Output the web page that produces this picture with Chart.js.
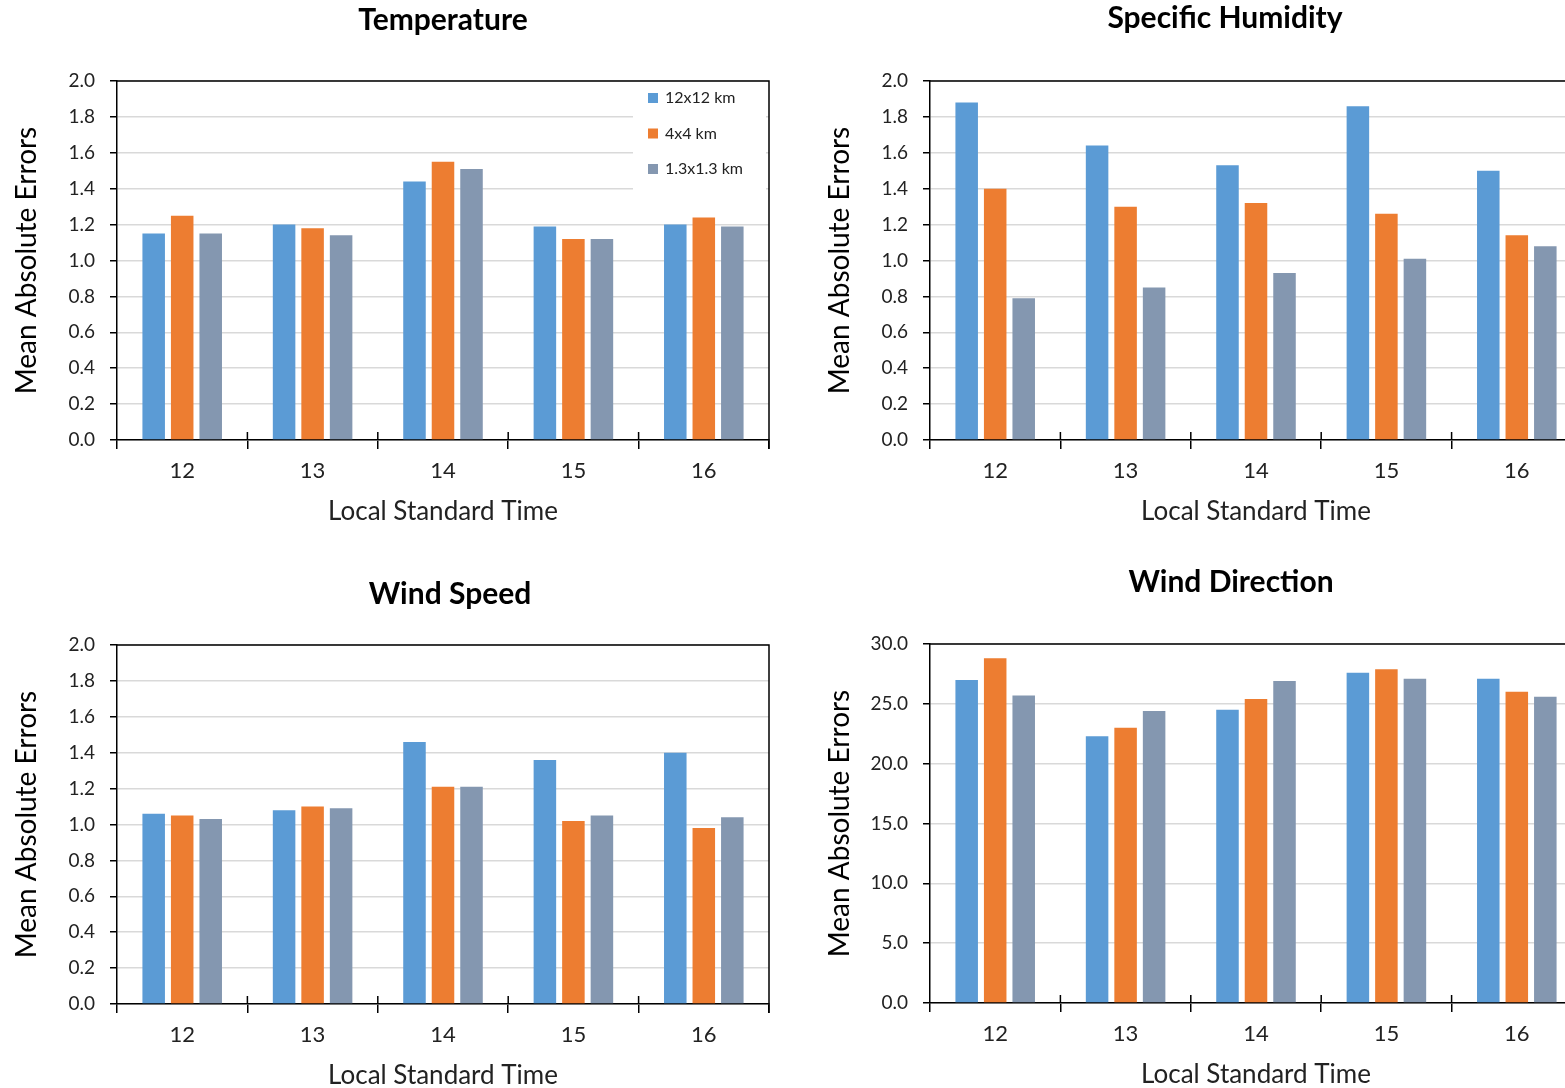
<!DOCTYPE html>
<html>
<head>
<meta charset="utf-8">
<title>Mean Absolute Errors by Local Standard Time</title>
<script src="https://cdn.jsdelivr.net/npm/chart.js@4.4.1/dist/chart.umd.min.js"></script>
<style>
  html, body { margin: 0; padding: 0; background: #fff; overflow: hidden; width: 1565px; height: 1088px; }
  .panel { position: absolute; }
</style>
</head>
<body>
<div class="panel" style="left:0;top:0"><canvas id="temperature" width="886" height="540"></canvas></div>
<div class="panel" style="left:813px;top:0"><canvas id="humidity" width="824" height="540"></canvas></div>
<div class="panel" style="left:0;top:564px"><canvas id="windSpeed" width="900" height="540"></canvas></div>
<div class="panel" style="left:813px;top:563px"><canvas id="windDirection" width="836" height="540"></canvas></div>
<script>
const times = ["12", "13", "14", "15", "16"];
const resolutions = ["12x12 km", "4x4 km", "1.3x1.3 km"];
const colors = ["#5B9BD5", "#ED7D31", "#8497B0"];

const temperature12km = [1.15, 1.20, 1.44, 1.19, 1.20];
const temperature4km = [1.25, 1.18, 1.55, 1.12, 1.24];
const temperature1km = [1.15, 1.14, 1.51, 1.12, 1.19];

const humidity12km = [1.88, 1.64, 1.53, 1.86, 1.50];
const humidity4km = [1.40, 1.30, 1.32, 1.26, 1.14];
const humidity1km = [0.79, 0.85, 0.93, 1.01, 1.08];

const windSpeed12km = [1.06, 1.08, 1.46, 1.36, 1.40];
const windSpeed4km = [1.05, 1.10, 1.21, 1.02, 0.98];
const windSpeed1km = [1.03, 1.09, 1.21, 1.05, 1.04];

const windDir12km = [27.0, 22.3, 24.5, 27.6, 27.1];
const windDir4km = [28.8, 23.0, 25.4, 27.9, 26.0];
const windDir1km = [25.7, 24.4, 26.9, 27.1, 25.6];

const FONT = "Lato, 'Open Sans', sans-serif";
const TEXT = "#222";

// plot frame (top/right edges), cross ticks on the category axis, inset legend
const framePlugin = {
  id: "frame",
  afterDraw(chart, args, opts) {
    const { ctx, chartArea: a } = chart;
    const x = chart.scales.x;
    ctx.save();
    ctx.strokeStyle = "#000";
    ctx.lineWidth = 1.5;
    ctx.beginPath();
    ctx.moveTo(a.left, a.top);
    ctx.lineTo(a.right, a.top);
    ctx.lineTo(a.right, a.bottom + 9);
    const step = (x.right - x.left) / x.ticks.length;
    for (let i = 1; i < x.ticks.length; i++) {
      const px = x.left + step * i;
      ctx.moveTo(px, a.bottom - 8);
      ctx.lineTo(px, a.bottom);
    }
    ctx.stroke();

    if (opts.legend) {
      ctx.fillStyle = "#fff";
      ctx.fillRect(a.right - 136, a.top + 2, 133, 110);
      ctx.font = "16px " + FONT;
      ctx.textBaseline = "middle";
      chart.data.datasets.forEach((ds, i) => {
        const y = a.top + 17 + i * 35.5;
        ctx.fillStyle = ds.backgroundColor;
        ctx.fillRect(a.right - 121, y - 5, 10, 10);
        ctx.fillStyle = TEXT;
        ctx.fillText(ds.label, a.right - 104, y);
      });
    }
    ctx.restore();
  }
};

function makeChart(id, title, series, yMax, yStep, layout) {
  const datasets = series.map((values, i) => ({
    label: resolutions[i],
    data: values,
    backgroundColor: colors[i],
    borderWidth: 0,
    barPercentage: 0.79,
    categoryPercentage: 0.656
  }));

  return new Chart(document.getElementById(id), {
    type: "bar",
    data: { labels: times, datasets },
    plugins: [framePlugin],
    options: {
      responsive: false,
      animation: false,
      plugins: {
        legend: { display: false },
        tooltip: { enabled: false },
        title: {
          display: true,
          text: title,
          color: "#000",
          font: { family: FONT, size: 30, weight: "bold" },
          padding: { top: layout.titleTop, bottom: 81 - 36 - layout.titleTop }
        },
        frame: { legend: layout.legend }
      },
      scales: {
        x: {
          grid: { offset: true, drawOnChartArea: false, tickLength: 9, color: "#000", lineWidth: 1.5 },
          border: { color: "#000", width: 1.5 },
          ticks: { color: TEXT, font: { family: FONT, size: 22 }, padding: 9 },
          title: {
            display: true,
            text: "Local Standard Time",
            color: TEXT,
            font: { family: FONT, size: 26 },
            padding: { top: 0, bottom: 12.4 }
          },
          afterFit(scale) { scale.height = 100; }
        },
        y: {
          min: 0,
          max: yMax,
          ticks: {
            stepSize: yStep,
            color: TEXT,
            font: { family: FONT, size: 19 },
            padding: 15,
            callback: (v) => v.toFixed(1)
          },
          grid: { color: "#d9d9d9", lineWidth: 1.5, tickLength: 7, tickColor: "#000" },
          border: { color: "#000", width: 1.5 },
          title: {
            display: true,
            text: "Mean Absolute Errors",
            color: "#000",
            font: { family: FONT, size: 28 },
            padding: { top: 10.2, bottom: 0 }
          },
          afterFit(scale) { scale.width = 117; }
        },
        // empty right-hand spacer so the title stays centred on the whole panel
        spacer: {
          type: "linear",
          position: "right",
          grid: { display: false },
          border: { display: false },
          ticks: { display: false },
          afterFit(scale) { scale.width = layout.padRight; }
        }
      }
    }
  });
}

makeChart("temperature", "Temperature",
  [temperature12km, temperature4km, temperature1km], 2.0, 0.2,
  { padRight: 117, titleTop: 2, legend: true });
makeChart("humidity", "Specific Humidity",
  [humidity12km, humidity4km, humidity1km], 2.0, 0.2,
  { padRight: 55, titleTop: 0, legend: false });
makeChart("windSpeed", "Wind Speed",
  [windSpeed12km, windSpeed4km, windSpeed1km], 2.0, 0.2,
  { padRight: 131, titleTop: 12, legend: false });
makeChart("windDirection", "Wind Direction",
  [windDir12km, windDir4km, windDir1km], 30, 5,
  { padRight: 67, titleTop: 1, legend: false });
</script>
</body>
</html>
